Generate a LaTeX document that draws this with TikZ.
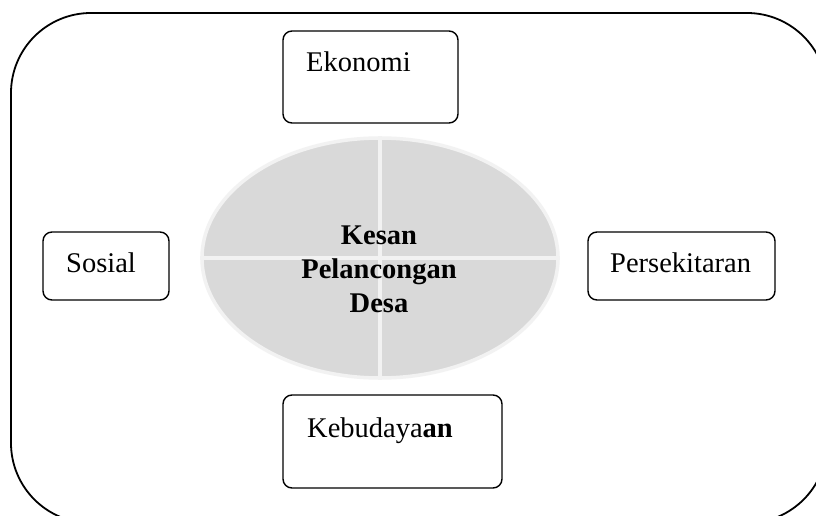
\documentclass[tikz,border=0pt]{standalone}
\usepackage{fontspec}
\setmainfont{Liberation Serif}
\usetikzlibrary{shapes.geometric}
\definecolor{ellfill}{HTML}{D9D9D9}
\definecolor{ellline}{HTML}{F2F2F2}
\begin{document}
\begin{tikzpicture}[x=1pt,y=-1pt,
  frame/.style={draw=black,line width=1.8pt,rounded corners=80pt},
  itembox/.style={draw=black,line width=1.4pt,rounded corners=9pt},
  lbl/.style={anchor=base west,inner sep=0pt,font=\fontsize{28.5}{34}\selectfont},
  ctr/.style={align=center,inner sep=0pt,font=\fontsize{28.5}{34}\selectfont\bfseries}]
\useasboundingbox (0,0) rectangle (816,516);
\clip (0,0) rectangle (816,516);
\fill[white] (0,0) rectangle (816,516);
% outer frame
\draw[frame] (11,13) rectangle (827,523);
% central ellipse
\node[ellipse,draw=ellline,fill=ellfill,line width=3.5pt,minimum width=356pt,minimum height=240pt,inner sep=0pt] (ell) at (380,258) {};
\draw[ellline,line width=3.5pt] (ell.north) -- (ell.south);
\draw[ellline,line width=3.5pt] (ell.west) -- (ell.east);
\node[ctr] (kesan) at (379,269) {Kesan\\Pelancongan\\Desa};
% boxes
\draw[itembox] (283,31) rectangle (458,123);
\node[lbl] (eko) at (306,72) {Ekonomi};
\draw[itembox] (43,232) rectangle (169,300);
\node[lbl] (sos) at (66,272) {Sosial};
\draw[itembox] (588,232) rectangle (775,300);
\node[lbl] (pers) at (610,272) {Persekitaran};
\draw[itembox] (283,395) rectangle (502,488);
\node[lbl] (keb) at (307,437) {Kebudaya\textbf{an}};
\end{tikzpicture}
\end{document}
